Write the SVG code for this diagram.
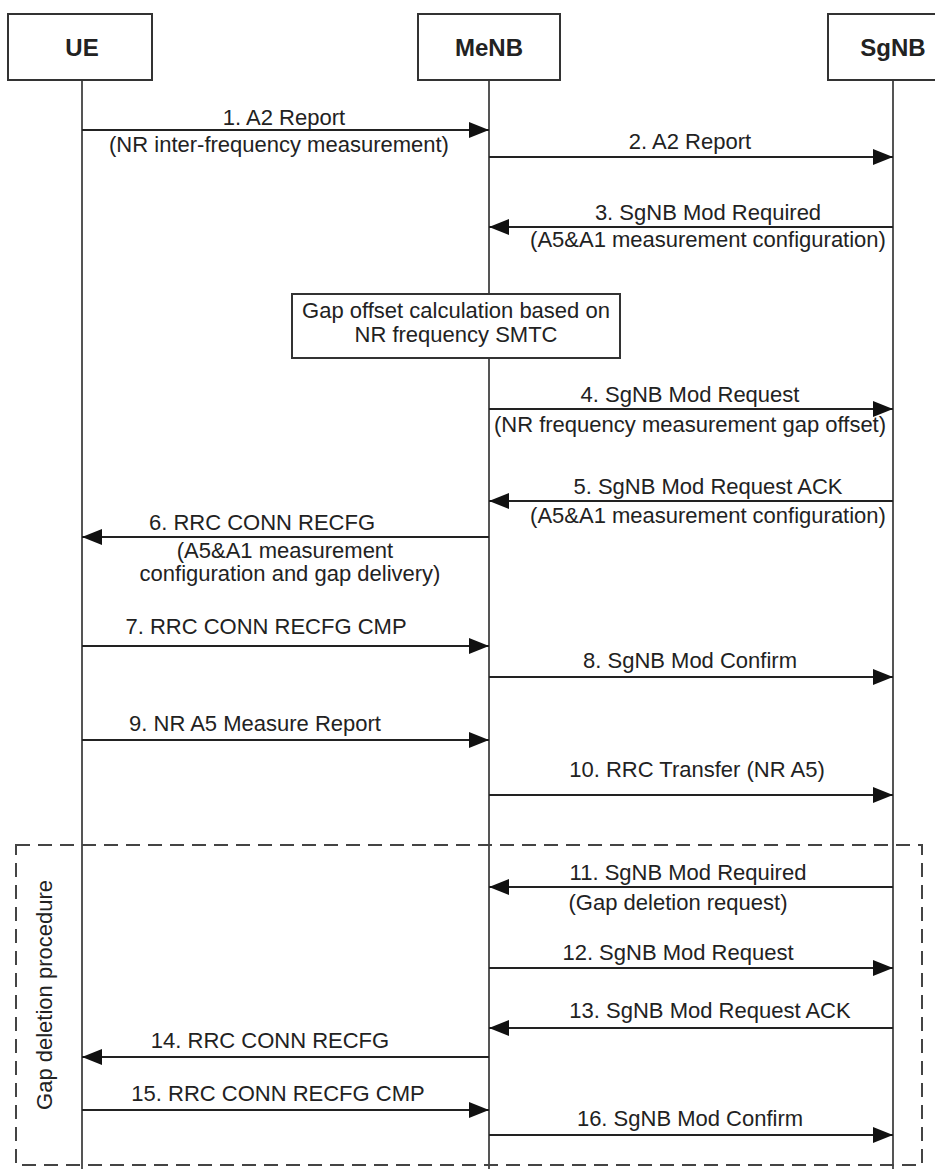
<svg xmlns="http://www.w3.org/2000/svg" width="935" height="1169" viewBox="0 0 935 1169">
<style>
.bg{fill:#fff}
.box{fill:#fff;stroke:#333;stroke-width:2}
.life{stroke:#555;stroke-width:2;fill:none}
.msg{stroke:#222;stroke-width:2;fill:none}
.hd{font-family:"Liberation Sans",Arial,sans-serif;font-size:24px;font-weight:bold;fill:#222;text-anchor:middle}
.t{font-family:"Liberation Sans",Arial,sans-serif;font-size:22px;fill:#222;text-anchor:middle}
.dash{fill:none;stroke:#444;stroke-width:2;stroke-dasharray:14 8}
</style>
<defs>
<marker id="ah" markerUnits="userSpaceOnUse" markerWidth="20" markerHeight="16" refX="20" refY="8" orient="auto">
<path d="M0,0 L20,8 L0,16 Z" fill="#111"/>
</marker>
</defs>
<rect class="bg" width="935" height="1169"/>
<g id="lifelines">
<line class="life" x1="82" y1="80" x2="82" y2="1169"/>
<line class="life" x1="489" y1="80" x2="489" y2="1169"/>
<line class="life" x1="893" y1="80" x2="893" y2="1169"/>
</g>
<g id="UE"><rect class="box" x="8" y="14" width="144" height="66"/><text class="hd" x="82" y="56">UE</text></g>
<g id="MeNB"><rect class="box" x="418" y="14" width="142" height="66"/><text class="hd" x="489" y="56">MeNB</text></g>
<g id="SgNB"><rect class="box" x="828" y="14" width="120" height="66"/><text class="hd" x="893" y="56">SgNB</text></g>
<g id="gapcalc"><rect class="box" x="292" y="294" width="328" height="64"/>
<text class="t" x="456" y="318">Gap offset calculation based on</text>
<text class="t" x="456" y="342">NR frequency SMTC</text></g>
<g id="gapdel"><rect class="dash" x="16" y="845" width="906" height="320"/>
<text class="t" transform="translate(52,995) rotate(-90)">Gap deletion procedure</text></g>
<g id="connectors">
<line class="msg" x1="82" y1="130" x2="489" y2="130" marker-end="url(#ah)"/>
<line class="msg" x1="489" y1="157" x2="893" y2="157" marker-end="url(#ah)"/>
<line class="msg" x1="893" y1="227" x2="489" y2="227" marker-end="url(#ah)"/>
<line class="msg" x1="489" y1="409" x2="893" y2="409" marker-end="url(#ah)"/>
<line class="msg" x1="893" y1="501" x2="489" y2="501" marker-end="url(#ah)"/>
<line class="msg" x1="489" y1="537" x2="82" y2="537" marker-end="url(#ah)"/>
<line class="msg" x1="82" y1="646" x2="489" y2="646" marker-end="url(#ah)"/>
<line class="msg" x1="489" y1="677" x2="893" y2="677" marker-end="url(#ah)"/>
<line class="msg" x1="82" y1="740" x2="489" y2="740" marker-end="url(#ah)"/>
<line class="msg" x1="489" y1="795" x2="893" y2="795" marker-end="url(#ah)"/>
<line class="msg" x1="893" y1="887" x2="489" y2="887" marker-end="url(#ah)"/>
<line class="msg" x1="489" y1="968" x2="893" y2="968" marker-end="url(#ah)"/>
<line class="msg" x1="893" y1="1028" x2="489" y2="1028" marker-end="url(#ah)"/>
<line class="msg" x1="489" y1="1057" x2="82" y2="1057" marker-end="url(#ah)"/>
<line class="msg" x1="82" y1="1110" x2="489" y2="1110" marker-end="url(#ah)"/>
<line class="msg" x1="489" y1="1135" x2="893" y2="1135" marker-end="url(#ah)"/>
</g>
<g id="labels">
<text class="t" x="284" y="125">1. A2 Report</text>
<text class="t" x="279" y="152">(NR inter-frequency measurement)</text>
<text class="t" x="690" y="149">2. A2 Report</text>
<text class="t" x="708" y="220">3. SgNB Mod Required</text>
<text class="t" x="708" y="247">(A5&amp;A1 measurement configuration)</text>
<text class="t" x="690" y="402">4. SgNB Mod Request</text>
<text class="t" x="690" y="432">(NR frequency measurement gap offset)</text>
<text class="t" x="708" y="494">5. SgNB Mod Request ACK</text>
<text class="t" x="708" y="523">(A5&amp;A1 measurement configuration)</text>
<text class="t" x="262" y="530">6. RRC CONN RECFG</text>
<text class="t" x="285" y="558">(A5&amp;A1 measurement</text>
<text class="t" x="290" y="581">configuration and gap delivery)</text>
<text class="t" x="266" y="634">7. RRC CONN RECFG CMP</text>
<text class="t" x="690" y="668">8. SgNB Mod Confirm</text>
<text class="t" x="255" y="731">9. NR A5 Measure Report</text>
<text class="t" x="697" y="777">10. RRC Transfer (NR A5)</text>
<text class="t" x="688" y="880">11. SgNB Mod Required</text>
<text class="t" x="678" y="910">(Gap deletion request)</text>
<text class="t" x="678" y="960">12. SgNB Mod Request</text>
<text class="t" x="710" y="1018">13. SgNB Mod Request ACK</text>
<text class="t" x="270" y="1048">14. RRC CONN RECFG</text>
<text class="t" x="278" y="1101">15. RRC CONN RECFG CMP</text>
<text class="t" x="690" y="1126">16. SgNB Mod Confirm</text>
</g>
</svg>
